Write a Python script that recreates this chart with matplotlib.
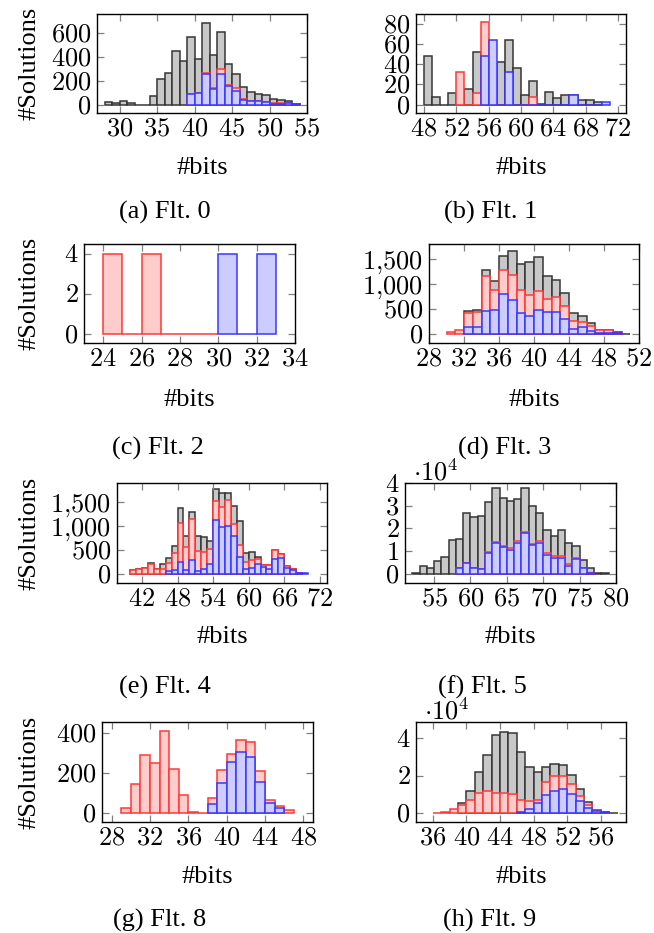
import numpy as np
import matplotlib
matplotlib.use("Agg")
import matplotlib.pyplot as plt
from matplotlib.ticker import FuncFormatter

W, H = 654, 933

# (a) Flt. 0
a_gray_start, a_red_start, a_blue_start = 28, 39, 39
a_gray = [25, 10, 27, 12, 0, 0, 75, 216, 263, 449, 360, 562, 380, 681, 413, 604,
          338, 252, 147, 105, 91, 80, 44, 42, 30, 8]
a_red = [89, 100, 263, 135, 300, 165, 135, 50, 33, 33, 22, 10, 10, 12, 6]
a_blue = [89, 97, 258, 133, 258, 155, 116, 42, 28, 28, 19, 8, 8, 11, 5]

# (b) Flt. 1
b_gray_start, b_red_start, b_blue_start = 48, 52, 55
b_gray = [48, 8, 0, 12, 0, 16, 52, 0, 0, 42, 64, 36, 10, 23, 1, 13, 7, 10, 10, 5, 5, 3]
b_red = [32, 0, 12, 82, 0, 0, 0, 0, 0, 8]
b_blue = [48, 64, 0, 32, 0, 0, 0, 0, 0, 0, 0, 10, 0, 0, 0, 3]

# (c) Flt. 2
c_red_start, c_blue_start = 24, 30
c_red = [4, 0, 4, 0, 0, 0]
c_blue = [4, 0, 4]

# (d) Flt. 3
d_gray_start, d_red_start, d_blue_start = 32, 30, 32
d_gray = [453, 487, 1280, 1053, 1560, 1653, 1407, 1440, 1533, 1153, 1080, 813,
          413, 367, 213, 80, 80, 40, 7]
d_red = [33, 80, 427, 433, 1153, 880, 1273, 1187, 873, 787, 860, 693, 733, 553,
         260, 233, 153, 80, 80, 20]
d_blue = [140, 140, 453, 473, 800, 687, 427, 360, 480, 433, 447, 293, 100, 133,
          53, 27, 27, 20]

# (e) Flt. 4
e_gray_start, e_red_start, e_blue_start = 40, 40, 46
e_gray = [77, 105, 126, 231, 105, 210, 329, 588, 1379, 798, 1302, 798, 763, 686,
          1785, 1687, 1687, 1428, 1113, 434, 455, 343, 196, 196, 490, 413, 175, 112, 21]
e_red = [77, 105, 126, 217, 105, 105, 224, 427, 1057, 567, 1141, 476, 455, 525,
         1519, 1400, 1547, 1050, 602, 259, 294, 322, 182, 196, 490, 413, 175, 112, 21]
e_blue = [63, 91, 252, 91, 294, 70, 112, 203, 1134, 973, 1001, 791, 357, 105, 126,
          210, 147, 105, 315, 329, 126, 91, 21, 21]

# (f) Flt. 5
f_gray_start, f_red_start, f_blue_start = 52, 58, 58
f_gray = [300, 3400, 2800, 5600, 7400, 14900, 15300, 26900, 25100, 25400, 31500,
          37900, 33500, 32100, 32800, 37900, 30100, 26600, 19400, 16600, 19400,
          13500, 12400, 6200, 2800, 600, 200]
f_red = [2400, 4700, 2800, 2200, 9600, 14100, 12400, 11500, 14600, 18400, 13200,
         14300, 9000, 7800, 7900, 4300, 7200, 2500, 600]
f_blue = [2400, 4700, 2500, 2200, 9300, 13400, 11900, 10700, 13700, 17800, 12600,
          13500, 8200, 7200, 6900, 3400, 6600, 2400, 600]

# (g) Flt. 8
g_red_start, g_blue_start = 29, 38
g_red = [26, 146, 292, 249, 410, 220, 89, 7, 0, 77, 213, 297, 366, 353, 208, 67, 38, 15]
g_blue = [46, 149, 253, 305, 280, 156, 52, 28]

# (h) Flt. 9
h_gray_start, h_red_start, h_blue_start = 39, 36, 46
h_gray = [5300, 12000, 22100, 31200, 41400, 43000, 42500, 32400, 24600, 21800,
          24400, 26000, 25700, 20200, 12700, 5800, 1900, 900, 100]
h_red = [200, 700, 2100, 4200, 6900, 10600, 11700, 11000, 10600, 10300, 7300, 6400,
         7300, 16500, 19600, 19600, 15400, 9400, 4200, 1800, 700]
h_blue = [700, 2300, 5300, 9700, 12000, 12900, 10400, 6700, 2800, 1100, 500]

captions = ["(a) Flt. 0", "(b) Flt. 1", "(c) Flt. 2", "(d) Flt. 3",
            "(e) Flt. 4", "(f) Flt. 5", "(g) Flt. 8", "(h) Flt. 9"]

GRAY = ("#c8c8c8", "#363636")
RED = ("#ffcccc", "#ff3838")
BLUE = ("#ccccff", "#3838ff")

plt.rcParams["font.family"] = "serif"
plt.rcParams["font.serif"] = ["Liberation Serif", "DejaVu Serif"]
plt.rcParams["mathtext.fontset"] = "cm"
FS = 19


def px_rect(l, t, r, b):
    return [l / W, 1 - b / H, (r - l) / W, (b - t) / H]


def hist(ax, start, vals, colors):
    x = np.arange(start, start + len(vals))
    ax.bar(x, vals, width=1, align="edge", color=colors[0], edgecolor=colors[1],
           linewidth=1.1)


def num_fmt(scale=1):
    def f(v, pos):
        s = f"{int(round(v / scale)):,}".replace(",", "{,}")
        return f"${s}$"
    return FuncFormatter(f)


def setup(ax, xlim, ylim, xticks, yticks, scale=1):
    ax.set_xlim(*xlim)
    ax.set_ylim(*ylim)
    ax.set_xticks(xticks)
    ax.set_yticks(yticks)
    ax.xaxis.set_major_formatter(num_fmt())
    ax.yaxis.set_major_formatter(num_fmt(scale))
    ax.tick_params(direction="in", length=5, width=0.9, color="0.5",
                   top=True, right=True, labelsize=FS, pad=4)
    for sp in ax.spines.values():
        sp.set_linewidth(1.0)
    if scale != 1:
        ax.text(0.04, 0.98, r"$\cdot 10^4$", transform=ax.transAxes,
                fontsize=FS, ha="left", va="bottom")


fig = plt.figure(figsize=(W / 100, H / 100), dpi=100)

boxes = [(97, 14, 307, 113), (416, 14, 626, 113),
         (84, 244, 295, 343), (429, 244, 639, 343),
         (117, 483, 327, 583), (405, 483, 616, 583),
         (102, 722, 313, 822), (416, 722, 626, 822)]
axs = [fig.add_axes(px_rect(*b)) for b in boxes]

ax = axs[0]
hist(ax, a_gray_start, a_gray, GRAY)
hist(ax, a_red_start, a_red, RED)
hist(ax, a_blue_start, a_blue, BLUE)
setup(ax, (27, 55), (-70, 756), range(30, 56, 5), [0, 200, 400, 600])

ax = axs[1]
hist(ax, b_gray_start, b_gray, GRAY)
hist(ax, b_red_start, b_red, RED)
hist(ax, b_blue_start, b_blue, BLUE)
setup(ax, (47, 73), (-8.3, 90), range(48, 73, 4), [0, 20, 40, 60, 80])

ax = axs[2]
hist(ax, c_red_start, c_red, RED)
hist(ax, c_blue_start, c_blue, BLUE)
setup(ax, (23, 34), (-0.45, 4.5), range(24, 35, 2), [0, 2, 4])

ax = axs[3]
hist(ax, d_gray_start, d_gray, GRAY)
hist(ax, d_red_start, d_red, RED)
hist(ax, d_blue_start, d_blue, BLUE)
setup(ax, (28, 52), (-180, 1800), range(28, 53, 4), [0, 500, 1000, 1500])

ax = axs[4]
hist(ax, e_gray_start, e_gray, GRAY)
hist(ax, e_red_start, e_red, RED)
hist(ax, e_blue_start, e_blue, BLUE)
setup(ax, (37.8, 73.2), (-190, 1900), range(42, 73, 6), [0, 500, 1000, 1500])

ax = axs[5]
hist(ax, f_gray_start, f_gray, GRAY)
hist(ax, f_red_start, f_red, RED)
hist(ax, f_blue_start, f_blue, BLUE)
setup(ax, (51, 80), (-4000, 40000), range(55, 81, 5),
      [0, 10000, 20000, 30000, 40000], scale=10000)

ax = axs[6]
hist(ax, g_red_start, g_red, RED)
hist(ax, g_blue_start, g_blue, BLUE)
setup(ax, (27, 49), (-43, 454), range(28, 49, 4), [0, 200, 400])

ax = axs[7]
hist(ax, h_gray_start, h_gray, GRAY)
hist(ax, h_red_start, h_red, RED)
hist(ax, h_blue_start, h_blue, BLUE)
setup(ax, (34, 59), (-4600, 48500), range(36, 57, 4), [0, 20000, 40000], scale=10000)

# labels and captions, placed in pixel coordinates
xlabel_y = [168, 168, 400, 400, 637, 637, 877, 877]
caption_y = [212, 212, 448, 448, 687, 687, 920, 920]
caption_x = [165, 491, 158, 505, 165, 482, 160, 490]
for i, (l, t, r, b) in enumerate(boxes):
    fig.text((l + r) / 2 / W, 1 - xlabel_y[i] / H, "#bits", fontsize=FS,
             ha="center", va="center")
    fig.text(caption_x[i] / W, 1 - caption_y[i] / H, captions[i], fontsize=FS,
             ha="center", va="center")
    if i % 2 == 0:
        fig.text(30 / W, 1 - (t + b) / 2 / H, "#Solutions", fontsize=FS,
                 rotation=90, ha="center", va="center")

fig.savefig("out.png", dpi=100)
